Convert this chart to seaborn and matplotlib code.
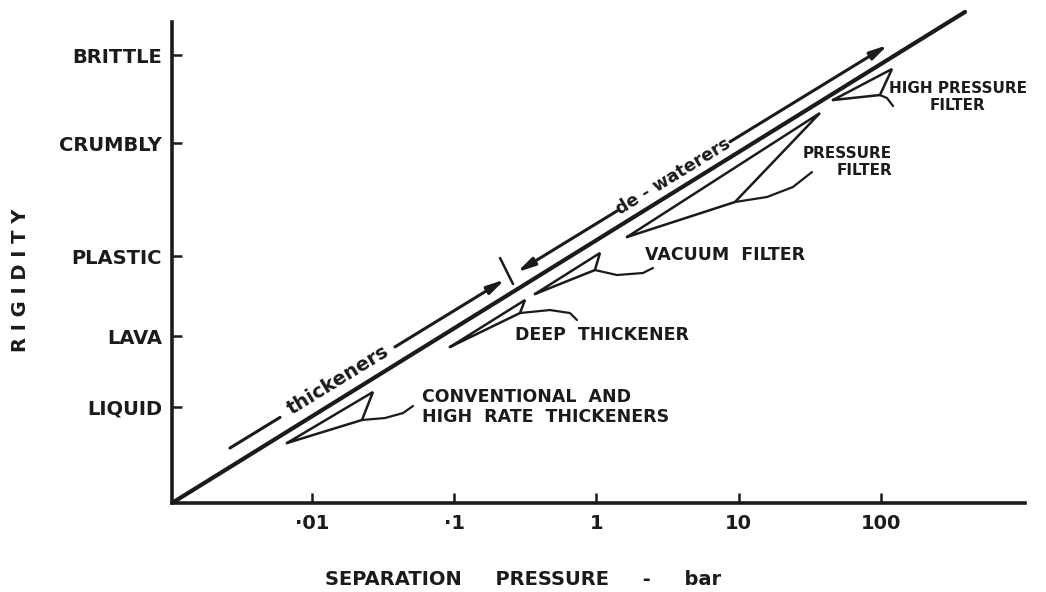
import numpy as np
import matplotlib
matplotlib.use("Agg")
import matplotlib.pyplot as plt
import matplotlib.ticker as mticker
import seaborn as sns

# axis scales: separation pressure (bar, log) and rigidity (arbitrary units)
pressure_ticks = [0.01, 0.1, 1, 10, 100]
pressure_labels = ["·01", "·1", "1", "10", "100"]
rigidity_levels = [2.00, 3.47, 5.13, 7.48, 9.31]
rigidity_labels = ["LIQUID", "LAVA", "PLASTIC", "CRUMBLY", "BRITTLE"]

# main trend line
trend_p = [0.001037, 390.0]
trend_r = [0.0, 10.21]

# guide line above the trend (thickeners / de-waterers)
thick_seg_p = [0.00265, 0.00596]
thick_seg_r = [1.143, 1.780]
thick_arrow_p = [0.0383, 0.2274]
thick_arrow_r = [3.245, 4.647]
thick_text_p, thick_text_r = 0.01524, 2.560
divider_p = [0.210, 0.259]
divider_r = [5.094, 4.553]
dewater_arrow1_p = [1.393, 0.276]
dewater_arrow1_r = [6.071, 4.798]
dewater_arrow2_p = [8.68, 111.9]
dewater_arrow2_r = [7.510, 9.522]
dewater_text_p, dewater_text_r = 3.45, 6.784

# equipment wedges (triangle outline) and leader lines
conv_p = [0.00667, 0.02685, 0.02246, 0.00667]
conv_r = [1.247, 2.308, 1.726, 1.247]
conv_lead_p = [0.02246, 0.0326, 0.0437, 0.0513]
conv_lead_r = [1.726, 1.767, 1.871, 2.017]

deep_p = [0.0933, 0.3144, 0.290, 0.0933]
deep_r = [3.243, 4.220, 3.950, 3.243]
deep_lead_p = [0.290, 0.471, 0.651, 0.729]
deep_lead_r = [3.950, 4.012, 3.950, 3.805]

vac_p = [0.3695, 1.058, 0.976, 0.3695]
vac_r = [4.345, 5.198, 4.844, 4.345]
vac_lead_p = [0.976, 1.393, 2.123, 2.496]
vac_lead_r = [4.844, 4.740, 4.782, 4.886]

pf_p = [1.639, 37.25, 9.41, 1.639]
pf_r = [5.530, 8.108, 6.258, 5.530]
pf_lead_p = [9.41, 15.8, 24.06, 32.73]
pf_lead_r = [6.258, 6.362, 6.570, 6.881]

hpf_p = [45.98, 119.5, 98.4, 45.98]
hpf_r = [8.378, 9.023, 8.482, 8.378]
hpf_lead_p = [98.4, 110.2, 121.5]
hpf_lead_r = [8.482, 8.420, 8.254]

# equipment labels
label_texts = ["CONVENTIONAL  AND\nHIGH  RATE  THICKENERS", "DEEP  THICKENER",
               "VACUUM  FILTER", "PRESSURE\nFILTER", "HIGH PRESSURE\nFILTER"]
label_p = [0.0593, 0.267, 2.193, 119.5, 347.5]
label_r = [1.996, 3.493, 5.156, 7.089, 8.441]
label_ha = ["left", "left", "left", "right", "center"]
label_size = [12.5, 12.5, 12.5, 11, 11]

sns.set_theme(style="ticks")
plt.rcParams['font.family'] = ['DejaVu Sans']
plt.rcParams['font.weight'] = 'bold'
plt.rcParams['axes.labelweight'] = 'bold'
ink = '#1b1b1b'

fig = plt.figure(figsize=(10.46, 5.92), dpi=100)
ax = fig.add_axes([0.1644, 0.1503, 0.8155, 0.8450])
ax.set_xscale('log')
ax.set_xlim(0.001037, 1029)
ax.set_ylim(0, 10.4)

def line(px, ry, lw, join='miter'):
    sns.lineplot(x=px, y=ry, sort=False, estimator=None, color=ink,
                 linewidth=lw, ax=ax, solid_joinstyle=join, solid_capstyle='round')

def arrow(px, ry):
    ax.annotate('', xy=(px[1], ry[1]), xytext=(px[0], ry[0]),
                arrowprops=dict(arrowstyle='-|>,head_length=0.75,head_width=0.18',
                                lw=2.2, color=ink, shrinkA=0, shrinkB=0,
                                mutation_scale=14))

line(trend_p, trend_r, 3.0)
line(thick_seg_p, thick_seg_r, 2.2)
arrow(thick_arrow_p, thick_arrow_r)
line(divider_p, divider_r, 1.8)
arrow(dewater_arrow1_p, dewater_arrow1_r)
arrow(dewater_arrow2_p, dewater_arrow2_r)

for wp, wr in [(conv_p, conv_r), (deep_p, deep_r), (vac_p, vac_r), (pf_p, pf_r), (hpf_p, hpf_r)]:
    line(wp, wr, 1.8)
for lp, lr in [(conv_lead_p, conv_lead_r), (deep_lead_p, deep_lead_r), (vac_lead_p, vac_lead_r),
               (pf_lead_p, pf_lead_r), (hpf_lead_p, hpf_lead_r)]:
    line(lp, lr, 1.6, join='round')

# text along the guide line follows its angle on screen
d0 = ax.transData.transform((thick_seg_p[0], thick_seg_r[0]))
d1 = ax.transData.transform((dewater_arrow2_p[1], dewater_arrow2_r[1]))
angle = np.degrees(np.arctan2(d1[1] - d0[1], d1[0] - d0[0]))
ax.text(thick_text_p, thick_text_r, "thickeners", rotation=angle, rotation_mode='anchor',
        ha='center', va='center', fontsize=14, color=ink)
ax.text(dewater_text_p, dewater_text_r, "de - waterers", rotation=angle, rotation_mode='anchor',
        ha='center', va='center', fontsize=12.5, color=ink)

for t, p, r, ha, s in zip(label_texts, label_p, label_r, label_ha, label_size):
    ax.text(p, r, t, ha=ha, va='center', multialignment=ha,
            fontsize=s, color=ink, linespacing=1.15)

ax.set_xticks(pressure_ticks, pressure_labels)
ax.xaxis.set_minor_locator(mticker.NullLocator())
ax.set_yticks(rigidity_levels, rigidity_labels)
ax.tick_params(axis='both', direction='in', length=7, width=1.8, colors=ink, labelsize=14)
ax.tick_params(axis='x', pad=8)
ax.tick_params(axis='y', pad=7)

sns.despine(ax=ax)
for s in ['left', 'bottom']:
    ax.spines[s].set_linewidth(2.6)
    ax.spines[s].set_color(ink)
ax.spines['left'].set_bounds(0, 10.0)

ax.set_xlabel("SEPARATION     PRESSURE     -     bar", fontsize=14, fontweight='bold', color=ink)
ax.xaxis.label.set_va('center')
ax.xaxis.set_label_coords(0.4115, -0.152)
ax.set_ylabel("R I G I D I T Y", fontsize=14, fontweight='bold', color=ink)
ax.yaxis.label.set_va('center')
ax.yaxis.set_label_coords(-0.178, 0.446)

fig.savefig("out.png", dpi=100, facecolor='white')
